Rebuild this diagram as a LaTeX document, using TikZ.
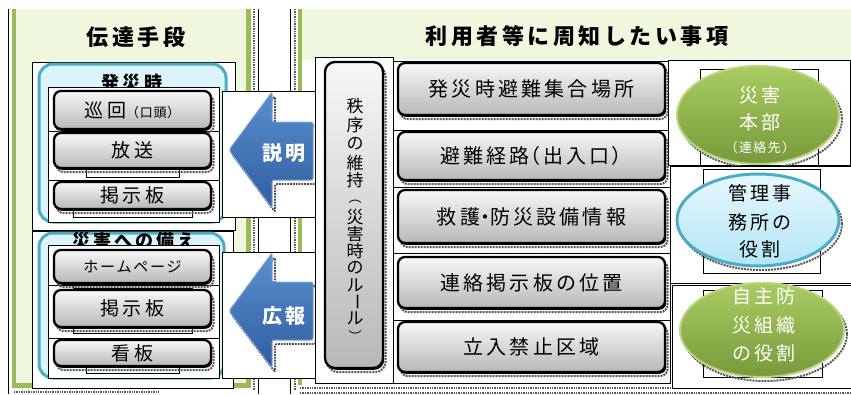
\documentclass[tikz,border=0pt]{standalone}
\usepackage{fontspec}
\setmainfont{Noto Sans CJK JP}
\usetikzlibrary{shapes.geometric,shadows}
\definecolor{lgreen}{HTML}{EFF8DF}
\definecolor{ggreen}{HTML}{9BBB59}
\definecolor{aqua}{HTML}{4BACC6}
\definecolor{lcyan}{HTML}{DBF3FB}
\definecolor{blueA}{HTML}{5B8FD0}
\definecolor{blueB}{HTML}{2E5D9F}
\definecolor{grnA}{HTML}{A9CD62}
\definecolor{grnB}{HTML}{77993B}
\definecolor{grnE}{HTML}{B8D67E}
\definecolor{cyA}{HTML}{E6F7FD}
\definecolor{cyB}{HTML}{B4E6F7}
\newcommand\fRow{\fontsize{20}{24}\selectfont\addfontfeature{LetterSpace=16}}
\newcommand\fLeft{\fontsize{19}{23}\selectfont\addfontfeature{LetterSpace=18}}
\newcommand\fTitle{\fontsize{22}{26}\selectfont\bfseries\addfontfeature{LetterSpace=16}}
\newcommand\fSub{\fontsize{18}{22}\selectfont\bfseries\addfontfeature{LetterSpace=17}}
\newcommand\fEl{\fontsize{19}{23}\selectfont\addfontfeature{LetterSpace=18}}
\newcommand\fArr{\fontsize{20}{24}\selectfont\bfseries\addfontfeature{LetterSpace=12}}
\newcommand\bx[7]{\node[#6,minimum width={(#4)-(#2)},minimum height={(#5)-(#3)}] (#1) at ({((#2)+(#4))/2},{((#3)+(#5))/2}) {#7};}
\newcommand\btn[7]{%
 \node[btnsh,#6,minimum width={(#4)-(#2)},minimum height={(#5)-(#3)}] (#1s) at ({((#2)+(#4))/2+2.5},{((#3)+(#5))/2+4}) {};
 \node[btn,#6,minimum width={(#4)-(#2)},minimum height={(#5)-(#3)}] (#1) at ({((#2)+(#4))/2},{((#3)+(#5))/2}) {#7};}
\begin{document}
\begin{tikzpicture}[x=1pt,y=-1pt,
  btn/.style={draw=black,line width=2.3pt,rounded corners=7pt,top color=black!3,bottom color=black!28,inner sep=0pt,
     drop shadow={shadow xshift=1.2pt,shadow yshift=-1.8pt,fill=black,opacity=1}},
  btnsh/.style={draw=black!65,densely dotted,line width=2pt,rounded corners=7pt,inner sep=0pt},
  wbox/.style={draw=black,line width=0.9pt,fill=white,inner sep=0pt},
  cyanr/.style={draw=aqua,line width=3pt,fill=lcyan,rounded corners=14pt,inner sep=0pt},
  sep/.style={line width=0.9pt},
  dotl/.style={black!65,densely dotted,line width=1.4pt},
  arrow/.style={top color=blueA,bottom color=blueB,draw=blueA!80!white,line width=1pt,rounded corners=2pt},
  arrsh/.style={black!70,densely dotted,line width=1.8pt,rounded corners=2pt},
  gel/.style={ellipse,draw=grnE,line width=2pt,top color=grnA,bottom color=grnB,inner sep=0pt},
  cel/.style={ellipse,draw=aqua,line width=3pt,top color=cyA,bottom color=cyB,inner sep=0pt},
  elsh/.style={ellipse,draw=black!65,densely dotted,line width=2pt,inner sep=0pt},
  wtxt/.style={text=white,inner sep=0pt},
  btxt/.style={text=black,inner sep=0pt},
  vtxt/.style={inner sep=0pt,font=\fontsize{17}{18}\selectfont},
  vpar/.style={inner sep=0pt,font=\fontsize{13}{14}\selectfont}]
\useasboundingbox (0,0) rectangle (851,394);
% ---------- panels
\fill[lgreen] (13,9) rectangle (250,387);
\fill[ggreen] (12,9) rectangle (16,387);
\fill[ggreen] (246,9) rectangle (251,387);
\fill[ggreen] (12,383) rectangle (251,388);
\draw[line width=0.8pt] (8,9) -- (8,394);
\draw[line width=0.8pt] (258,9) -- (258,394);
\draw[dotl] (254,9) -- (254,390);
\fill[lgreen] (302,9) rectangle (851,60);
\fill[ggreen] (298,9) rectangle (302,385);
\draw[line width=0.8pt] (290,9) -- (290,394);
\draw[dotl] (295,9) -- (295,390);
\draw[dotl] (14,392) -- (160,392);
\draw[dotl] (300,388) -- (851,388);
\draw[dotl] (300,393) -- (851,393);
\node[inner sep=0pt] (t1) at (136,37) {\fTitle 伝達手段};
\node[inner sep=0pt] (t2) at (577,36) {\fTitle 利用者等に周知したい事項};
% ---------- left group A
\bx{boxA}{32}{62}{235}{230}{wbox}{}
\bx{cyanA}{39}{64}{226}{222}{cyanr}{}
\node[inner sep=0pt] (tA) at (132,83) {\fSub 発災時};
\bx{inA}{48}{87}{219}{222}{wbox}{}
\bx{sA1}{86}{166}{179}{177}{wbox}{}
\bx{sA2}{73}{209}{192}{217}{wbox}{}
\draw[sep] (48,131) -- (219,131);
\draw[sep] (48,180) -- (219,180);
\btn{bA1}{54}{91}{211}{129}{}{\fLeft 巡回{\fontsize{13}{15}\selectfont\addfontfeature{LetterSpace=5}（口頭）}}
\btn{bA2}{54}{133}{211}{168}{}{\fLeft 放送}
\btn{bA3}{54}{182}{211}{209}{}{\fLeft 掲示板}
% ---------- left group B
\bx{boxB}{32}{231}{233}{388}{wbox}{}
\bx{cyanB}{39}{233}{224}{378}{cyanr}{}
\node[inner sep=0pt] (tB) at (134,241) {\fSub 災害への備え};
\bx{inB}{48}{245}{219}{378}{wbox}{}
\bx{sB1}{73}{280}{192}{288}{wbox}{}
\bx{sB2}{73}{325}{192}{333}{wbox}{}
\bx{sB3}{86}{364}{179}{373}{wbox}{}
\draw[sep] (48,285) -- (219,285);
\draw[sep] (48,338) -- (219,338);
\btn{bB1}{54}{250}{211}{283}{}{\fontsize{15}{18}\selectfont\addfontfeature{LetterSpace=12}ホームページ}
\btn{bB2}{54}{290}{211}{327}{}{\fLeft 掲示板}
\btn{bB3}{54}{340}{211}{366}{}{\fLeft 看板}
% ---------- arrows
\bx{abA}{222}{91}{323}{217}{wbox}{}
\draw[arrsh] (232,154) -- (275,96) -- (275,126) -- (316,126) -- (316,184) -- (275,184) -- (275,212) -- cycle;
\draw[arrow] (229,150) -- (272,92) -- (272,122) -- (313,122) -- (313,180) -- (272,180) -- (272,208) -- cycle;
\node[wtxt] (aA) at (284,153) {\fArr 説明};
\bx{abB}{222}{252}{323}{378}{wbox}{}
\draw[arrsh] (232,315) -- (275,257) -- (275,286) -- (316,286) -- (316,344) -- (275,344) -- (275,372) -- cycle;
\draw[arrow] (229,311) -- (272,253) -- (272,282) -- (313,282) -- (313,340) -- (272,340) -- (272,368) -- cycle;
\node[wtxt] (aB) at (284,316) {\fArr 広報};
% ---------- middle
\bx{vbox}{315}{57}{393}{383}{wbox}{}
\bx{strip}{393}{61}{670}{383}{wbox}{}
\draw[sep] (393,130) -- (670,130);
\draw[sep] (393,187) -- (670,187);
\draw[sep] (393,253) -- (670,253);
\draw[sep] (393,320) -- (670,320);
\btn{vb}{325}{62}{383}{368}{rounded corners=10pt}{}
\foreach \c/\y [count=\i] in {秩/106,序/125,の/144,維/163,持/180,災/217,害/234,時/251,の/268,ル/285,{\rotatebox{-90}{ー}}/302,ル/318}
  \node[vtxt] (v\i) at (355,\y) {\c};
\node[vpar] (vp1) at (355,202) {︵};
\node[vpar] (vp2) at (355,336) {︶};
\btn{r1}{398}{63}{665}{115}{}{\fRow 発災時避難集合場所}
\btn{r2}{398}{132}{665}{180}{}{\fRow 避難経路{\addfontfeature{RawFeature=+palt}（出入口）}}
\btn{r3}{398}{190}{665}{243}{}{\fRow 救護{\addfontfeature{RawFeature=+palt}・}防災設備情報}
\btn{r4}{398}{257}{665}{308}{}{\fRow 連絡掲示板の位置}
\btn{r5}{398}{322}{665}{372}{}{\fRow 立入禁止区域}
% ---------- ellipses
\bx{eb1}{668}{60}{850}{165}{wbox}{}
\bx{ei1}{700}{69}{818}{165}{wbox}{}
\node[elsh,minimum width=162,minimum height=98] (e1s) at (761,119) {};
\node[gel,minimum width=162,minimum height=98] (e1) at (758,115) {};
\node[wtxt] (e1a) at (760,95) {\fEl 災害};
\node[wtxt] (e1b) at (760,122) {\fEl 本部};
\node[wtxt] (e1c) at (760,148) {\fontsize{13}{15}\selectfont\addfontfeature{LetterSpace=10}（連絡先）};
\bx{eb2}{670}{166}{851}{283}{wbox}{}
\bx{ei2}{703}{169}{820}{273}{wbox}{}
\node[elsh,minimum width=162,minimum height=92] (e2s) at (761,224) {};
\node[cel,minimum width=162,minimum height=92] (e2) at (758,220) {};
\node[btxt] (e2a) at (760,193) {\fEl 管理事};
\node[btxt] (e2b) at (760,222) {\fEl 務所の};
\node[btxt] (e2c) at (760,249) {\fEl 役割};
\bx{eb3}{672}{285}{851}{388}{wbox}{}
\bx{ei3}{703}{290}{822}{377}{wbox}{}
\node[elsh,minimum width=164,minimum height=94] (e3s) at (765,334) {};
\node[gel,minimum width=164,minimum height=94] (e3) at (762,330) {};
\node[wtxt] (e3a) at (764,296) {\fEl 自主防};
\node[wtxt] (e3b) at (764,325) {\fEl 災組織};
\node[wtxt] (e3c) at (764,353) {\fEl の役割};
\end{tikzpicture}
\end{document}
